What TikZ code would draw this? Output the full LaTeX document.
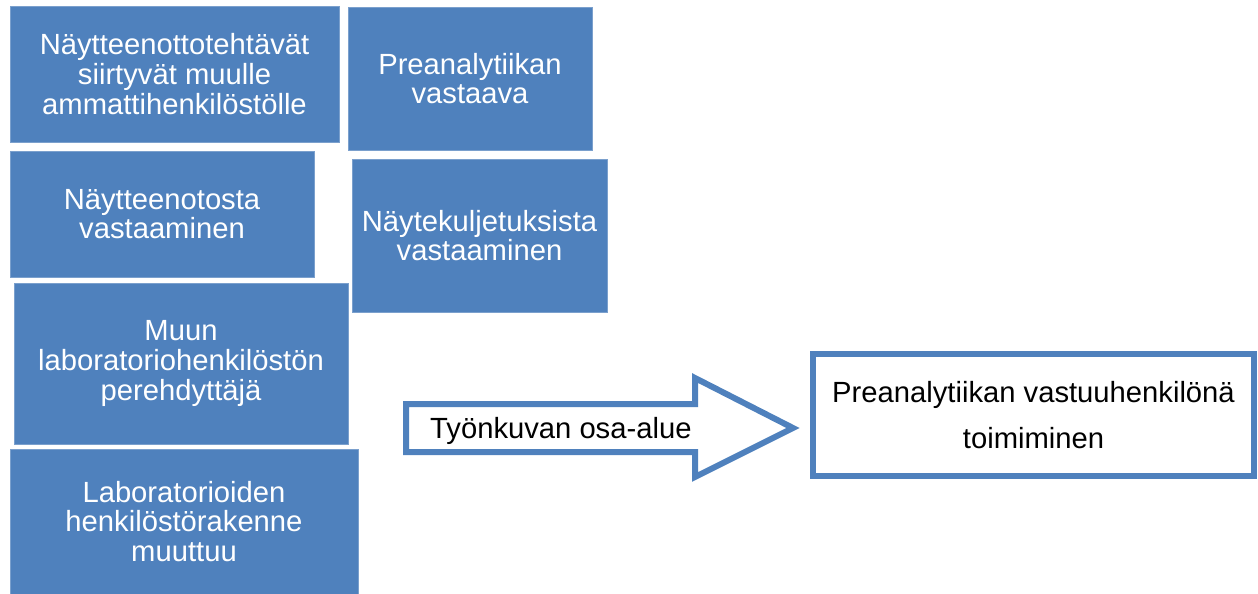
\documentclass[tikz,border=0pt]{standalone}
\usepackage{fontspec}
\setmainfont{Liberation Sans}
\definecolor{ttblue}{HTML}{4F81BD}
\usepackage{tikz}

\begin{document}
\begin{tikzpicture}[x=1pt,y=-1pt,
  tehtava/.style={fill=ttblue,draw=ttblue!75!white,line width=0.8pt,text=white,align=center,
    inner sep=0pt,font=\fontsize{29.2}{29.6}\selectfont},
  vastuu/.style={draw=ttblue,line width=6.5pt,fill=white,align=center,inner sep=0pt,
    font=\fontsize{29.2}{46}\selectfont}]
  \useasboundingbox (0,0) rectangle (1258,594);
  \node[tehtava,minimum width=329,minimum height=136] (siirto) at (174.5,74) {Näytteenottotehtävät\\siirtyvät muulle\\ammattihenkilöstölle};
  \node[tehtava,minimum width=244,minimum height=143] (vastaava) at (470,78.5) {Preanalytiikan\\vastaava};
  \node[tehtava,minimum width=304,minimum height=126] (naytteenotto) at (162,214) {Näytteenotosta\\vastaaminen};
  \node[tehtava,minimum width=255,minimum height=153] (kuljetus) at (479.5,235.5) {Näytekuljetuksista\\vastaaminen};
  \node[tehtava,minimum width=334,minimum height=161] (perehdytys) at (181,363.5) {Muun\\laboratoriohenkilöstön\\perehdyttäjä};
  \node[tehtava,minimum width=348,minimum height=145] (rakenne) at (184,521.5) {Laboratorioiden\\henkilöstörakenne\\muuttuu};
  \draw[ttblue,line width=6pt,line join=miter,fill=white] (406,404) -- (695,404) -- (695,378) -- (793,428)
    -- (695,477) -- (695,452) -- (406,452) -- cycle;
  \node[anchor=base west,inner sep=0pt,font=\fontsize{29.2}{29.6}\selectfont] (osaalue) at (430,438) {Työnkuvan osa-alue};
  \node[vastuu,minimum width=441,minimum height=122] (toimiminen) at (1033.5,415) {Preanalytiikan vastuuhenkilönä\\toimiminen};
\end{tikzpicture}
\end{document}
